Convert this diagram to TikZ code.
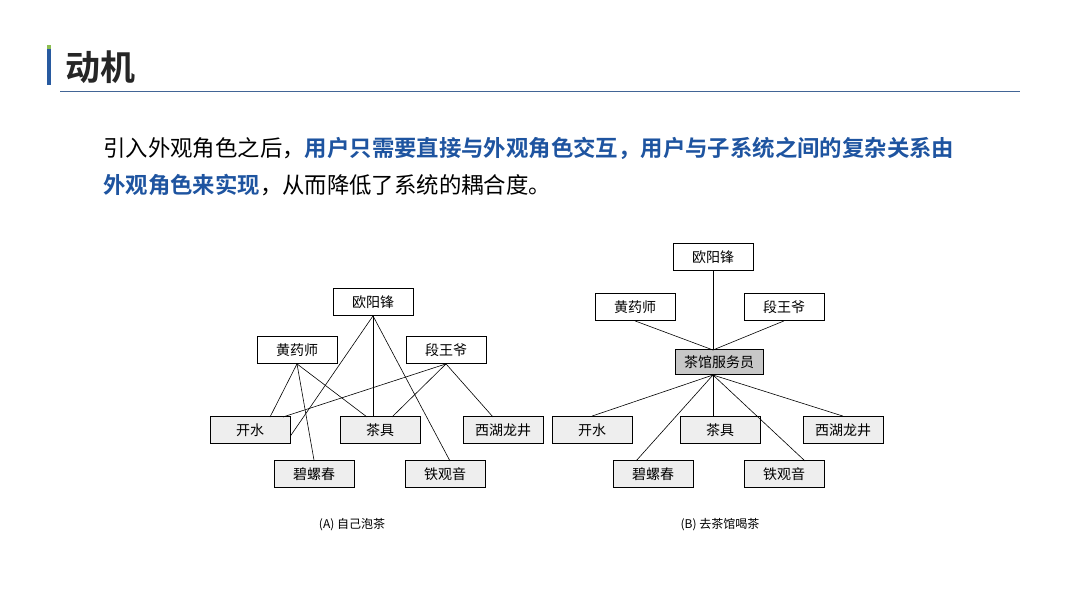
\documentclass[tikz,border=0pt]{standalone}
\usepackage{fontspec}
\setmainfont{Noto Sans CJK SC}[BoldFont=Noto Sans CJK SC Bold]
\usetikzlibrary{positioning}
\definecolor{keyblue}{RGB}{30,84,160}
\definecolor{barblue}{RGB}{40,90,160}
\definecolor{bargreen}{RGB}{140,190,80}
\definecolor{boxgray}{RGB}{238,238,238}
\tikzset{
  box/.style={draw, line width=0.8pt, minimum width=80pt, minimum height=27pt, font=\fontsize{14}{16}\selectfont, inner sep=0pt},
  leaf/.style={box, fill=boxgray},
  hub/.style={box, fill=black!22, minimum width=88pt, minimum height=25pt},
  link/.style={draw, line width=0.6pt}
}
\begin{document}
\begin{tikzpicture}[x=1pt,y=-1pt]
  \useasboundingbox (0,0) rectangle (1080,607);
  % header
  \fill[barblue] (47,49) rectangle (51,85);
  \fill[bargreen] (47,45) rectangle (51,49);
  \node[anchor=west, font=\fontsize{35}{38}\selectfont\bfseries, text=black!85] (title) at (62,67) {动机};
  \draw[barblue!70!gray, line width=0.9pt] (60,91) -- (1020,91);
  \node[anchor=west, font=\fontsize{22.4}{26}\selectfont, inner sep=0pt] (lineA) at (103,148)
    {引入外观角色之后，\textcolor{keyblue}{\bfseries 用户只需要直接与外观角色交互，用户与子系统之间的复杂关系由}};
  \node[anchor=west, font=\fontsize{22.4}{26}\selectfont, inner sep=0pt] (lineB) at (103,185)
    {\textcolor{keyblue}{\bfseries 外观角色来实现}，从而降低了系统的耦合度。};
  % (A)
  \node[box] (ouA) at (373,302) {欧阳锋};
  \node[box] (huangA) at (297,350) {黄药师};
  \node[box] (duanA) at (446,350) {段王爷};
  \node[leaf] (kaiA) at (250,430) {开水};
  \node[leaf] (chaA) at (380,430) {茶具};
  \node[leaf] (xiA) at (503,430) {西湖龙井};
  \node[leaf] (biA) at (314,474) {碧螺春};
  \node[leaf] (tieA) at (445,474) {铁观音};
  \draw[link] (ouA.south) -- (kaiA.north east|-0,436);
  \draw[link] (ouA.south) -- (ouA.south|-chaA.north);
  \draw[link] (ouA.south) -- (450,461);
  \draw[link] (huangA.south) -- (270,417);
  \draw[link] (huangA.south) -- (biA.north);
  \draw[link] (huangA.south) -- (367,417);
  \draw[link] (duanA.south) -- (283,417);
  \draw[link] (duanA.south) -- (392,417);
  \draw[link] (duanA.south) -- (493,417);
  \node[font=\fontsize{12}{14}\selectfont] (capA) at (352,525) {(A) 自己泡茶};
  % (B)
  \node[box] (ouB) at (713,257) {欧阳锋};
  \node[box] (huangB) at (635,307) {黄药师};
  \node[box] (duanB) at (784,307) {段王爷};
  \node[hub] (hubB) at (719,362) {茶馆服务员};
  \node[leaf] (kaiB) at (592,430) {开水};
  \node[leaf] (chaB) at (720,430) {茶具};
  \node[leaf] (xiB) at (843,430) {西湖龙井};
  \node[leaf] (biB) at (653,474) {碧螺春};
  \node[leaf] (tieB) at (784,474) {铁观音};
  \coordinate (hubtop) at (713,350);
  \coordinate (hubbot) at (713,375);
  \draw[link] (ouB.south) -- (hubtop);
  \draw[link] (huangB.south) -- (hubtop);
  \draw[link] (duanB.south) -- (hubtop);
  \draw[link] (hubbot) -- (kaiB.north);
  \draw[link] (hubbot) -- (hubbot|-chaB.north);
  \draw[link] (hubbot) -- (xiB.north);
  \draw[link] (hubbot) -- (636,461);
  \draw[link] (hubbot) -- (805,461);
  \node[font=\fontsize{12}{14}\selectfont] (capB) at (720,525) {(B) 去茶馆喝茶};
\end{tikzpicture}
\end{document}
